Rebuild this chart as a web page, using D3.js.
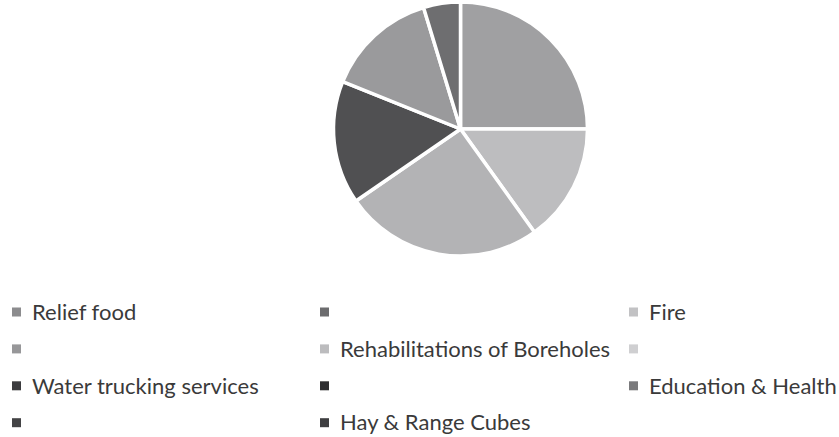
<!DOCTYPE html>
<html><head><meta charset="utf-8">
<script src="https://cdn.jsdelivr.net/npm/d3@7"></script>
<style>body{margin:0;background:#fff}</style>
</head><body>
<svg id="c" width="839" height="437"></svg>
<script>
const categories = ["Relief food", "", "Fire", "", "Rehabilitations of Boreholes", "", "Water trucking services", "", "Education & Health", "", "Hay & Range Cubes"];
const values = [25.0, 0, 15.1, 0, 25.3, 0, 15.7, 0, 14.2, 0, 4.7];
const colors = ["#a0a0a2", "#6c6c6e", "#bdbdbf", "#979799", "#b3b3b5", "#cfcfd1", "#505052", "#2e2e30", "#9a9a9c", "#434345", "#6e6e70"];
const legendColors = ["#8c8c8e", "#6c6c6e", "#c2c2c4", "#979799", "#bcbcbe", "#cfcfd1", "#3c3c3e", "#2e2e30", "#7a7a7c", "#434345", "#3e3e40"];

const svg = d3.select("#c");
const cx = 460.5, cy = 129, r = 127;
const pie = d3.pie().sort(null).value(d => d.v);
const arc = d3.arc().innerRadius(0).outerRadius(r);
const data = categories.map((c, i) => ({c, v: values[i], col: colors[i], lc: legendColors[i]}));
svg.append("g").attr("transform", `translate(${cx},${cy})`)
  .selectAll("path").data(pie(data).filter(d => d.data.v > 0)).join("path")
  .attr("d", arc).attr("fill", d => d.data.col)
  .attr("stroke", "#fff").attr("stroke-width", 3.5).attr("stroke-linejoin", "round");

const colX = [12, 320, 629];
const rowY = d3.scaleLinear().domain([0, 1]).range([312, 348.9]);
const lg = svg.append("g").selectAll("g").data(data).join("g")
  .attr("transform", (d, i) => `translate(${colX[i % 3]},${rowY(Math.floor(i / 3))})`);
lg.append("rect").attr("x", 0).attr("y", -4.5).attr("width", 9).attr("height", 9).attr("fill", d => d.lc);
lg.append("text").attr("x", 20).attr("y", 0).attr("dy", "0.35em")
  .attr("font-family", "Lato, sans-serif").attr("font-size", 22).attr("fill", "#3a3a3a")
  .text(d => d.c);
</script>
</body></html>
